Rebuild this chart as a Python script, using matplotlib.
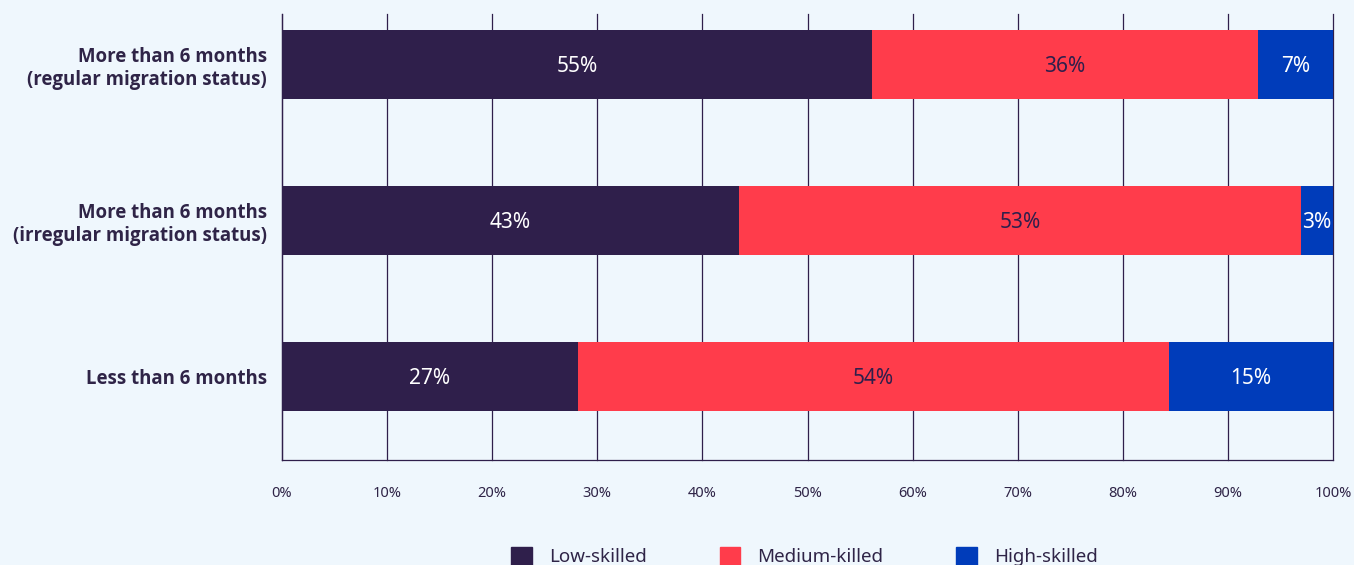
import numpy as np
import matplotlib.pyplot as plt
from matplotlib import font_manager
from matplotlib.patches import Patch

plt.rcParams['font.family'] = ['Noto Sans', 'DejaVu Sans']

# Shares by duration of stay and skill level (percent, as reported)
categories = ['More than 6 months\n(regular migration status)',
              'More than 6 months\n(irregular migration status)',
              'Less than 6 months']
low_skilled = [55, 43, 27]
medium_skilled = [36, 53, 54]
high_skilled = [7, 3, 15]
series_names = ['Low-skilled', 'Medium-killed', 'High-skilled']
colors = ['#2F1F4B', '#FF3C4B', '#003CBA']
label_colors = ['white', '#2F1F4B', 'white']
xticks = np.arange(0, 101, 10)

bg = '#EFF7FD'
ink = '#2F2447'

# use a bold face that is actually installed
bold_family = ['Noto Sans', 'DejaVu Sans']
noto_bold = [f for f in font_manager.fontManager.ttflist
             if f.name == 'Noto Sans' and f.weight in (700, 'bold')]
if not noto_bold:
    bold_family = ['Open Sans', 'DejaVu Sans']

raw = np.array([low_skilled, medium_skilled, high_skilled], dtype=float)
shares = raw / raw.sum(axis=0) * 100  # stack each row to 100%

fig = plt.figure(figsize=(13.54, 5.65), dpi=100, facecolor=bg)
ax = fig.add_axes([0.2083, 0.186, 0.7762, 0.789])
ax.set_facecolor(bg)

y = np.arange(len(categories))
left = np.zeros(len(categories))
for i in range(len(series_names)):
    ax.barh(y, shares[i], left=left, height=0.44, color=colors[i],
            zorder=3, label=series_names[i])
    for j in range(len(categories)):
        ax.text(left[j] + shares[i][j] / 2, y[j] + 0.012,
                f'{raw[i][j]:.0f}%', ha='center', va='center',
                fontsize=15, color=label_colors[i], zorder=4)
    left += shares[i]

ax.set_xlim(0, 100)
ax.set_ylim(2.535, -0.324)
ax.set_xticks(xticks)
ax.set_xticklabels([f'{t}%' for t in xticks])
ax.set_yticks(y)
ax.set_yticklabels(categories, fontsize=13.4, fontweight='bold', color=ink,
                   linespacing=1.2, family=bold_family)
ax.tick_params(axis='x', length=0, pad=19, labelsize=10.5, labelcolor=ink)
ax.tick_params(axis='y', length=0, pad=11)

ax.grid(axis='x', color='#2F1F4B', linewidth=0.9, zorder=1)
for line in ax.get_xgridlines():
    line.set_clip_on(False)
for side in ['top', 'right']:
    ax.spines[side].set_visible(False)
for side in ['left', 'bottom']:
    ax.spines[side].set_color('#2F1F4B')
    ax.spines[side].set_linewidth(0.9)

handles = [Patch(color=c) for c in colors]
fig.legend(handles, series_names, loc='upper center', ncol=3,
           bbox_to_anchor=(0.594, 0.062), frameon=False, fontsize=13.5,
           handlelength=1.1, handleheight=1.1, handletextpad=0.9,
           columnspacing=3.9, labelcolor=ink)

fig.savefig('out.png', dpi=100, facecolor=bg)
